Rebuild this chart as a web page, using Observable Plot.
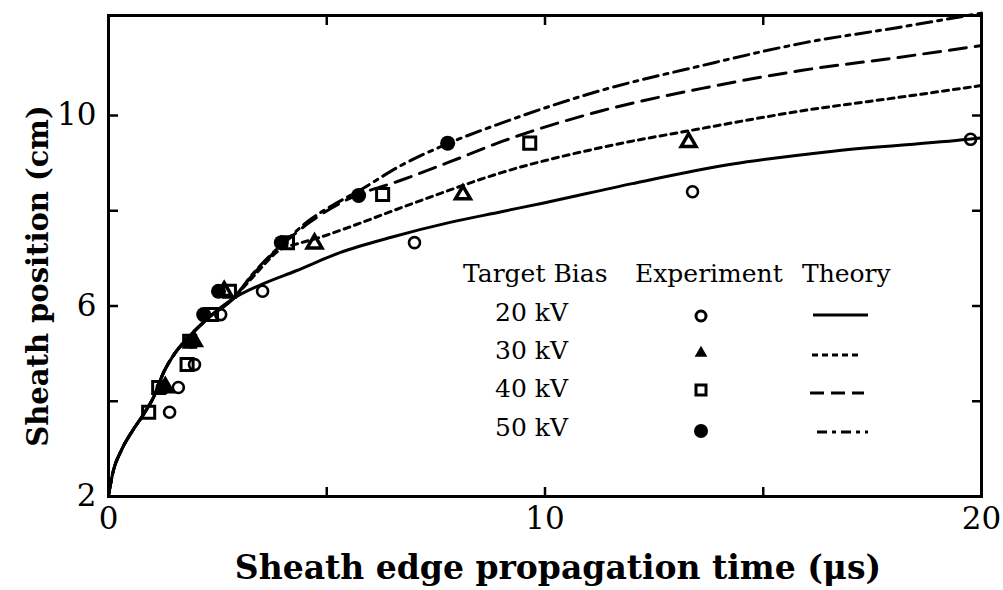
<!DOCTYPE html>
<html><head><meta charset="utf-8">
<script src="https://cdn.jsdelivr.net/npm/d3@7"></script>
<script src="https://cdn.jsdelivr.net/npm/@observablehq/plot@0.6"></script>
<style>
body{margin:0;background:#fff;}
#chart{width:1003px;height:590px;}
</style></head><body><div id="chart"></div>
<script>
// ---- data ----
const xTickLabels = [0, 10, 20];
const yTickLabels = [2, 6, 10];
const xMinorTicks = [5, 10, 15];
const yMinorTicks = [4, 6, 8, 10];
const biasLabels = ["20 kV", "30 kV", "40 kV", "50 kV"];
const legendHeaders = ["Target Bias", "Experiment", "Theory"];
const xTitle = "Sheath edge propagation time (\u03bcs)";
const yTitle = "Sheath position (cm)";

// experiment points [time µs, position cm]
const exp20 = [[1.40,3.77],[1.60,4.29],[1.97,4.77],[2.57,5.82],[3.53,6.31],[7.01,7.33],[13.38,8.40],[19.75,9.50]];
const exp30 = [[1.30,4.29],[1.95,5.26],[2.65,6.31],[4.72,7.31],[8.12,8.34],[13.29,9.44]];
const exp40 = [[0.92,3.77],[1.15,4.29],[1.80,4.77],[1.86,5.26],[2.36,5.82],[2.77,6.31],[4.10,7.33],[6.28,8.34],[9.65,9.42]];
const exp50 = [[1.25,4.29],[1.90,5.26],[2.18,5.82],[2.52,6.31],[3.96,7.33],[5.73,8.32],[7.77,9.42]];

// theory curves [time µs, position cm]
const theory20 = [[0,2.02],[0.1,2.5],[0.3,2.98],[0.55,3.38],[0.8,3.72],[1.05,4.12],[1.26,4.6],[1.5,4.98],[1.83,5.34],[2.3,5.76],[2.85,6.15],[3.5,6.45],[4.3,6.74],[5.3,7.12],[6.5,7.45],[7.8,7.75],[9.0,7.98],[10.0,8.17],[12.0,8.57],[14.3,8.98],[16.6,9.25],[19.7,9.5],[20,9.53]];
const theory30 = [[0,2.02],[0.1,2.5],[0.3,2.98],[0.55,3.38],[0.8,3.72],[1.05,4.12],[1.26,4.6],[1.5,4.98],[1.83,5.34],[2.3,5.76],[2.85,6.15],[3.3,6.6],[4.0,7.22],[4.3,7.3],[4.8,7.43],[5.5,7.65],[6.4,7.96],[7.5,8.33],[9.0,8.8],[11.3,9.33],[13.6,9.73],[15.9,10.1],[18.1,10.38],[20,10.63]];
const theory40 = [[0,2.02],[0.1,2.5],[0.3,2.98],[0.55,3.38],[0.8,3.72],[1.05,4.12],[1.26,4.6],[1.5,4.98],[1.83,5.34],[2.3,5.76],[2.85,6.15],[3.3,6.65],[4.0,7.3],[4.6,7.75],[5.5,8.25],[6.7,8.64],[7.8,9.02],[9.0,9.45],[11.3,10.1],[13.6,10.57],[15.9,10.95],[18.1,11.22],[20,11.47]];
const theory50 = [[0,2.02],[0.1,2.5],[0.3,2.98],[0.55,3.38],[0.8,3.72],[1.05,4.12],[1.26,4.6],[1.5,4.98],[1.83,5.34],[2.3,5.76],[2.85,6.15],[3.3,6.67],[4.0,7.32],[4.6,7.8],[5.2,8.15],[5.7,8.4],[6.7,8.95],[7.8,9.42],[9.0,9.84],[11.3,10.53],[13.6,11.05],[15.9,11.52],[18.1,11.85],[20,12.15]];

// ---- styles ----
const serif = "'DejaVu Serif', 'Liberation Serif', serif";
const dashes = ["none", "6,5", "17,9", "15,6,4,6"];
const legendDashes = ["none", "6,4", "14,7", "10,5,4,5"];
const lineW = 3;

const pts = (a) => a.map(([x, y]) => ({x, y}));
const lineOpts = (i) => ({x: "x", y: "y", stroke: "black", strokeWidth: lineW, strokeDasharray: dashes[i], curve: "monotone-x"});

const plot = Plot.plot({
  width: 1003, height: 590,
  marginLeft: 108, marginRight: 22, marginTop: 15, marginBottom: 94,
  x: {domain: [0, 20]},
  y: {domain: [2, 12.1]},
  style: {fontFamily: serif, background: "white", color: "black", overflow: "visible"},
  marks: [
    Plot.line(pts(theory20), lineOpts(0)),
    Plot.line(pts(theory30), lineOpts(1)),
    Plot.line(pts(theory40), lineOpts(2)),
    Plot.line(pts(theory50), lineOpts(3)),
    Plot.dot(pts(exp50), {x: "x", y: "y", r: 7.5, fill: "black", stroke: "none"}),
    Plot.dot(pts(exp40), {x: "x", y: "y", symbol: "square", r: 6.8, fill: "none", stroke: "black", strokeWidth: 3}),
    Plot.dot(pts(exp30), {x: "x", y: "y", symbol: "triangle", r: 5.5, fill: "none", stroke: "black", strokeWidth: 3.5}),
    Plot.dot(pts(exp20), {x: "x", y: "y", r: 5.5, fill: "none", stroke: "black", strokeWidth: 2.6}),
    Plot.frame({stroke: "black", strokeWidth: 3}),
    // inward minor ticks
    Plot.axisX({anchor: "bottom", ticks: xMinorTicks, tickSize: 9, dy: -9, tickFormat: () => "", label: null, strokeWidth: 2.5}),
    Plot.axisX({anchor: "top", ticks: xMinorTicks, tickSize: 9, dy: 9, tickFormat: () => "", label: null, strokeWidth: 2.5}),
    Plot.axisY({anchor: "left", ticks: yMinorTicks, tickSize: 10, dx: 10, tickFormat: () => "", label: null, strokeWidth: 2.5}),
    Plot.axisY({anchor: "right", ticks: yMinorTicks, tickSize: 10, dx: -10, tickFormat: () => "", label: null, strokeWidth: 2.5}),
    // tick labels
    Plot.axisX({anchor: "bottom", ticks: xTickLabels, tickSize: 0, tickPadding: 10, fontSize: 31, label: null}),
    Plot.axisY({anchor: "left", ticks: yTickLabels, tickSize: 0, tickPadding: 12, fontSize: 31, label: null}),
    // axis titles
    Plot.text([xTitle], {frameAnchor: "bottom", textAnchor: "middle", dx: 13, dy: 72, fontSize: 33, fontWeight: "bold", lineAnchor: "middle"}),
    Plot.text([yTitle], {frameAnchor: "left", textAnchor: "middle", rotate: -90, dx: -70, dy: 20, fontSize: 29, fontWeight: "bold", lineAnchor: "middle"})
  ]
});
document.getElementById("chart").append(plot);

// ---- legend (drawn into the same svg) ----
const svg = d3.select(plot);
const g = svg.append("g").attr("font-family", serif).attr("font-size", 25).attr("fill", "black").attr("text-anchor", "start");
const headerX = [463, 635, 802];
legendHeaders.forEach((t, i) => g.append("text").attr("x", headerX[i]).attr("y", 282).attr("text-anchor", "start").text(t));
const rowY = [313, 351, 389, 428];
biasLabels.forEach((t, i) => g.append("text").attr("x", 495).attr("y", rowY[i] + 8).attr("text-anchor", "start").text(t));
const symX = 701;
g.append("circle").attr("cx", symX).attr("cy", rowY[0] + 3).attr("r", 5).attr("fill", "none").attr("stroke", "black").attr("stroke-width", 3);
g.append("path").attr("d", d3.symbol(d3.symbolTriangle, 70)()).attr("transform", `translate(${symX},${rowY[1] + 2})`).attr("fill", "black");
g.append("rect").attr("x", symX - 5).attr("y", rowY[2] - 4).attr("width", 10).attr("height", 10).attr("fill", "none").attr("stroke", "black").attr("stroke-width", 3);
g.append("circle").attr("cx", symX).attr("cy", rowY[3] + 3).attr("r", 7).attr("fill", "black");
const lineX = [[813, 868], [812, 858], [810, 864], [817, 868]];
const lineYs = [315, 355, 393, 432];
lineX.forEach(([a, b], i) => g.append("line").attr("x1", a).attr("x2", b).attr("y1", lineYs[i]).attr("y2", lineYs[i])
  .attr("stroke", "black").attr("stroke-width", 3).attr("stroke-dasharray", legendDashes[i] === "none" ? null : legendDashes[i]));
</script>
</body></html>
